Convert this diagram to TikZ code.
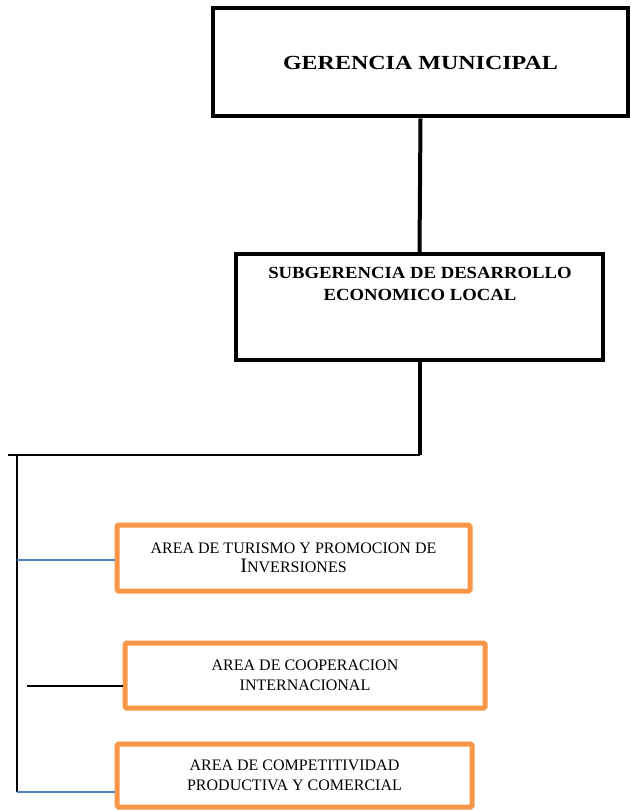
\documentclass[tikz,border=0pt]{standalone}
\usepackage{fontspec}
\setmainfont{Liberation Serif}
\usepackage{graphicx}
\definecolor{areaorange}{HTML}{F79646}
\definecolor{linkblue}{HTML}{4F81BD}
\begin{document}
\begin{tikzpicture}[x=1pt,y=-1pt,
  mainbox/.style={draw=black,line width=4pt,rectangle,inner sep=0pt},
  areabox/.style={draw=areaorange,line width=5pt,rounded corners=1.5pt,rectangle,inner sep=0pt,
    align=center,font=\fontsize{16}{19.5}\selectfont},
  trunk/.style={draw=black,line width=4pt},
  busline/.style={draw=black,line width=2pt},
  bluelink/.style={draw=linkblue,line width=2pt},
  blacklink/.style={draw=black,line width=1.6pt}]
\useasboundingbox (0,0) rectangle (630,810);

% top level
\node[mainbox,minimum width=415pt,minimum height=108pt,
  font=\fontsize{20}{24}\selectfont\bfseries] (ger) at (420.5,62.5)
  {\scalebox{1.2}[1]{GERENCIA MUNICIPAL}};

% second level
\node[mainbox,minimum width=367pt,minimum height=106pt] (sub) at (419.5,307) {};
\node[align=center,font=\fontsize{17}{22}\selectfont\bfseries,inner sep=0pt] (subtxt) at (420,284)
  {\scalebox{1.1}[1]{SUBGERENCIA DE DESARROLLO}\\\scalebox{1.1}[1]{ECONOMICO LOCAL}};

% areas
\node[areabox,minimum width=353pt,minimum height=66pt] (a1) at (293.5,558)
  {AREA DE TURISMO Y PROMOCION DE\\{\fontsize{20.5}{20}\selectfont I}{\fontsize{16}{19.5}\selectfont NVERSIONES}};
\node[areabox,minimum width=360pt,minimum height=65pt] (a2) at (305,675.5)
  {AREA DE COOPERACION\\INTERNACIONAL};
\node[areabox,minimum width=355pt,minimum height=63pt] (a3) at (294.5,775.5)
  {\raisebox{-2pt}{\parbox{300pt}{\centering AREA DE COMPETITIVIDAD\\PRODUCTIVA Y COMERCIAL}}};

% connector skeleton
\coordinate (busL) at (8,455);
\coordinate (spineTop) at (17,455);
\coordinate (spineBot) at (17,792);
\coordinate (tap1) at (17,559.5);
\coordinate (tap2) at (27,686);

\draw[trunk] (ger.south) -- (sub.north);
\draw[trunk] (sub.south) -- (sub.south |- busL);
\draw[busline] (busL) -- (busL -| sub.south);
\draw[busline] (spineTop) -- (spineBot);

\draw[bluelink] (tap1) -- ([yshift=-1.5pt]a1.west);
\draw[blacklink] (tap2) -- (tap2 -| a2.west);
\draw[bluelink] (spineBot) -- (spineBot -| a3.west);
\end{tikzpicture}
\end{document}
